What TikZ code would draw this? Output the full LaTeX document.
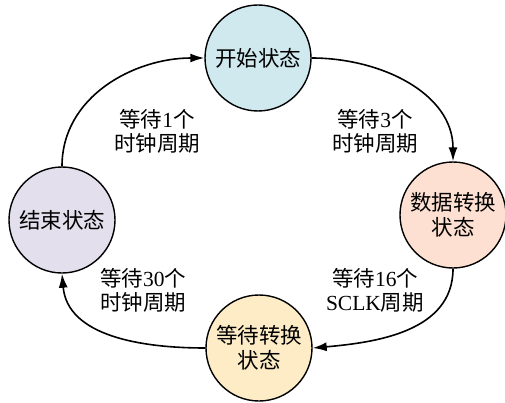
\documentclass[tikz,border=0pt]{standalone}
\usepackage{fontspec}
\setmainfont{Liberation Serif}
\newfontfamily\cjk{Noto Sans CJK SC}
\usetikzlibrary{arrows.meta}
\definecolor{topfill}{RGB}{207,233,238}
\definecolor{rightfill}{RGB}{253,224,210}
\definecolor{leftfill}{RGB}{227,223,237}
\definecolor{bottomfill}{RGB}{253,236,198}
\begin{document}
\begin{tikzpicture}[x=1pt,y=1pt,
  state/.style={circle,draw=black,line width=1.4pt,minimum size=106pt,inner sep=0pt,align=center,
    font=\fontsize{21.5}{25}\selectfont\cjk},
  lbl/.style={align=center,font=\fontsize{21.5}{24}\selectfont},
  conn/.style={line width=1.6pt,-{Latex[length=14pt,width=9pt]}}]
\useasboundingbox (0,0) rectangle (505,402);
\node[state,fill=topfill] (start) at (258,344) {开始状态};
\node[state,fill=rightfill] (conv) at (453,187) {数据转换\\状态};
\node[state,fill=leftfill] (end) at (62,182) {结束状态};
\node[state,fill=bottomfill] (wait) at (259,54) {等待转换\\状态};
\node[lbl] (l1) at (157,271) {{\cjk 等待}1{\cjk 个}\\{\cjk 时钟周期}};
\node[lbl] (l2) at (375,271) {{\cjk 等待}3{\cjk 个}\\{\cjk 时钟周期}};
\node[lbl] (l3) at (143,112) {{\cjk 等待}30{\cjk 个}\\{\cjk 时钟周期}};
\node[lbl] (l4) at (375,112) {{\cjk 等待}16{\cjk 个}\\SCLK{\cjk 周期}};
\draw[conn] (end.north) to[out=90,in=180] (start.west);
\draw[conn] (start.east) to[out=0,in=90] (conv.north);
\draw[conn] (conv.south) to[out=-90,in=5] (wait.east);
\draw[conn] (wait.west) to[out=180,in=-85] (end.south);
\end{tikzpicture}
\end{document}
